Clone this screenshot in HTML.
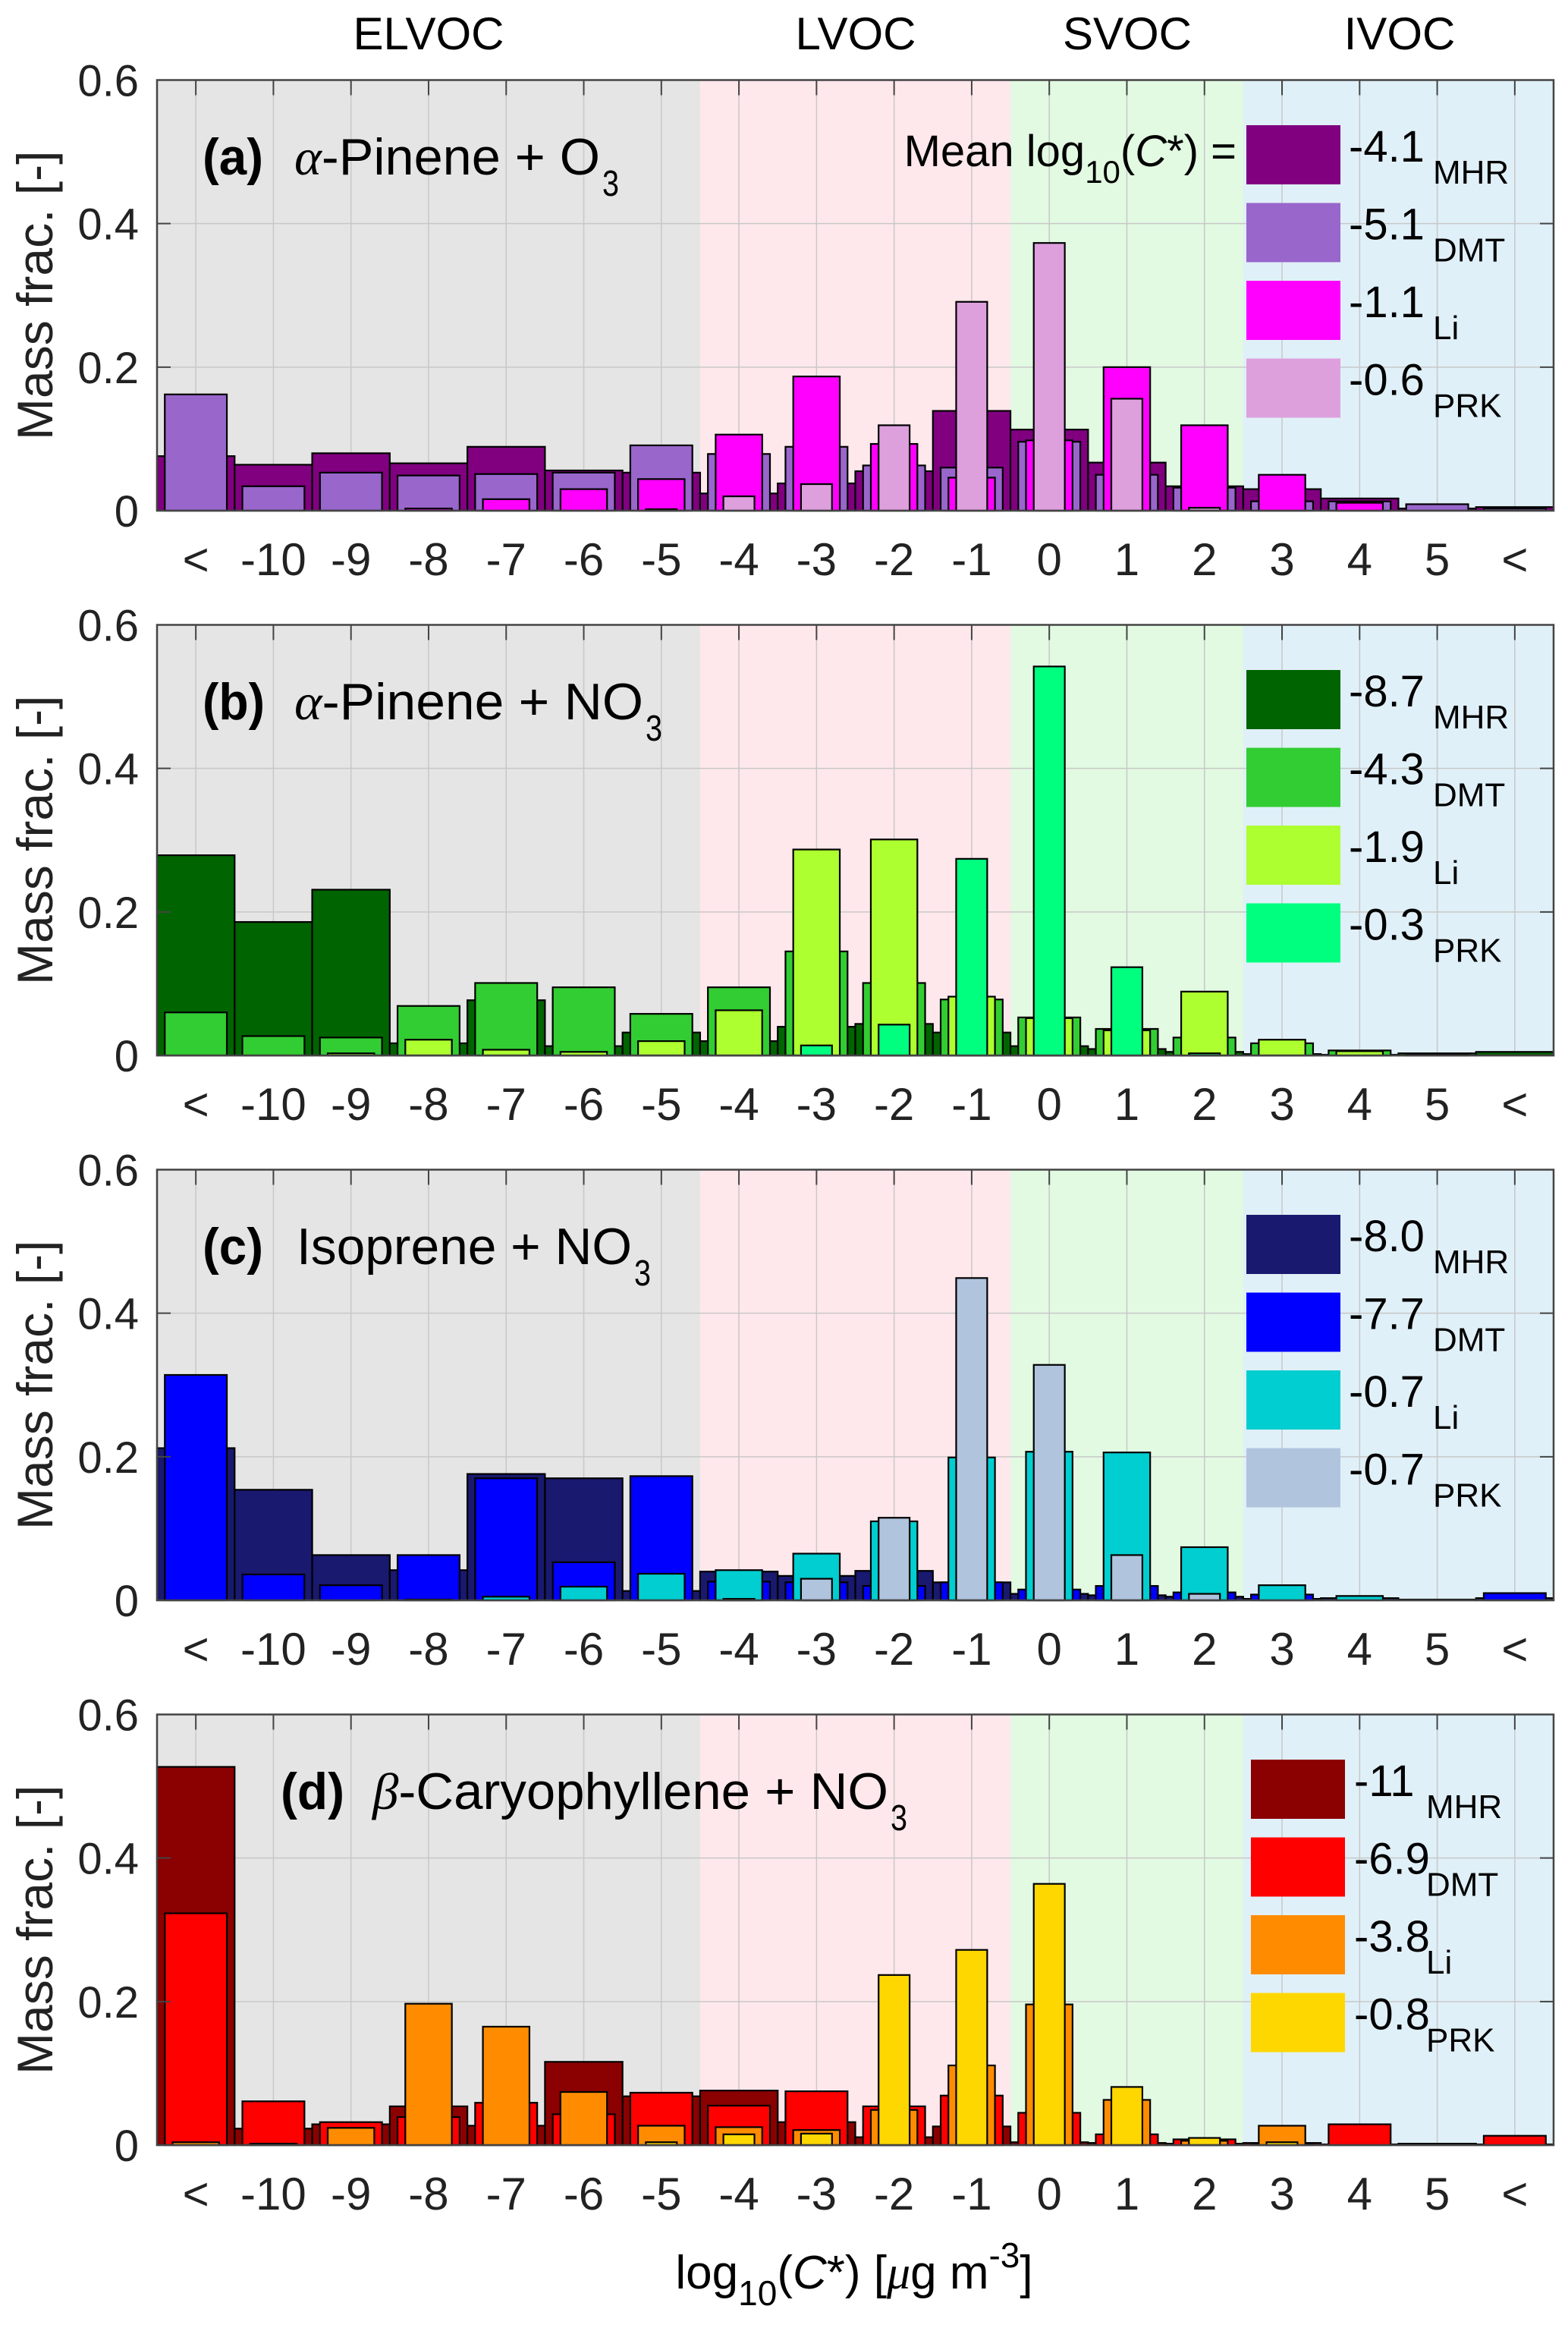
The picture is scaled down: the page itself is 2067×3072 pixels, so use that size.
<!DOCTYPE html>
<html><head><meta charset="utf-8"><style>
html,body{margin:0;padding:0;background:#fff;}
svg{display:block;font-family:"Liberation Sans",Arial,sans-serif;}
</style></head><body>
<svg id="chart" width="2067" height="3072" viewBox="0 0 2067 3072" xmlns="http://www.w3.org/2000/svg">
<g id="bands">
<text x="565" y="65" font-size="60" text-anchor="middle">ELVOC</text>
<text x="1128" y="65" font-size="60" text-anchor="middle">LVOC</text>
<text x="1486" y="65" font-size="60" text-anchor="middle">SVOC</text>
<text x="1845" y="65" font-size="60" text-anchor="middle">IVOC</text>
</g>
<text x="1126" y="3016" font-size="62" text-anchor="middle">log<tspan dy="22" font-size="46">10</tspan><tspan dy="-22">(</tspan><tspan font-style="italic">C</tspan>*) [<tspan font-family="Liberation Serif,serif" font-style="italic">μ</tspan>g m<tspan dy="-28" font-size="46">-3</tspan><tspan dy="28">]</tspan></text>
</svg>
<script>
const categories = ["<","-10","-9","-8","-7","-6","-5","-4","-3","-2","-1","0","1","2","3","4","5","<"];
const yTicks = [0, 0.2, 0.4, 0.6];
const yTickLabels = ["0","0.2","0.4","0.6"];
const seriesNames = ["MHR","DMT","Li","PRK"];

const aMHR = [0.076,0.064,0.080,0.066,0.089,0.056,0.053,0.024,0.038,0.055,0.139,0.113,0.067,0.034,0.030,0.017,0.003,0.005];
const aDMT = [0.162,0.034,0.053,0.049,0.051,0.053,0.091,0.079,0.089,0.063,0.060,0.096,0.050,0.032,0.013,0.013,0.009,0.003];
const aLi  = [0,0,0,0.003,0.016,0.030,0.044,0.106,0.187,0.093,0.046,0.098,0.200,0.119,0.050,0.011,0,0];
const aPRK = [0,0,0,0,0,0,0.002,0.020,0.037,0.119,0.291,0.373,0.156,0.004,0,0,0,0];

const bMHR = [0.279,0.186,0.231,0.017,0.077,0.013,0.032,0.020,0.040,0.044,0.032,0.013,0.009,0.005,0.002,0.001,0.003,0.005];
const bDMT = [0.060,0.027,0.025,0.069,0.101,0.095,0.058,0.095,0.145,0.101,0.078,0.053,0.037,0.025,0.017,0.007,0.002,0];
const bLi  = [0,0,0.003,0.022,0.008,0.005,0.020,0.063,0.287,0.301,0.082,0.052,0.035,0.089,0.022,0.006,0,0];
const bPRK = [0,0,0,0,0,0,0,0,0.014,0.043,0.274,0.542,0.123,0.003,0,0,0,0];

const cMHR = [0.212,0.154,0.063,0.042,0.176,0.170,0.013,0.040,0.034,0.041,0.025,0.009,0.007,0.005,0.002,0.003,0.001,0.003];
const cDMT = [0.314,0.036,0.021,0.063,0.170,0.053,0.173,0.026,0.025,0.020,0.025,0.015,0.020,0.011,0.008,0,0,0.010];
const cLi  = [0,0,0,0.001,0.005,0.019,0.037,0.042,0.065,0.110,0.199,0.207,0.206,0.074,0.021,0.006,0,0];
const cPRK = [0,0,0,0,0,0,0,0.002,0.030,0.115,0.449,0.328,0.063,0.009,0,0,0,0];

const dMHR = [0.527,0.023,0.029,0.054,0.027,0.116,0.068,0.076,0.032,0.011,0.026,0.004,0.003,0.002,0.003,0.001,0.002,0.001];
const dDMT = [0.323,0.061,0.032,0.039,0.059,0.043,0.073,0.055,0.075,0.054,0.069,0.045,0.015,0.008,0.001,0.029,0,0.013];
const dLi  = [0.004,0.002,0.024,0.197,0.165,0.074,0.027,0.025,0.021,0.049,0.111,0.196,0.063,0.006,0.027,0,0,0];
const dPRK = [0,0,0,0,0,0,0.004,0.015,0.016,0.237,0.272,0.364,0.081,0.010,0.004,0,0,0];

const legendA = ["-4.1","-5.1","-1.1","-0.6"];
const legendB = ["-8.7","-4.3","-1.9","-0.3"];
const legendC = ["-8.0","-7.7","-0.7","-0.7"];
const legendD = ["-11","-6.9","-3.8","-0.8"];

const NS = "http://www.w3.org/2000/svg";
const svg = document.getElementById("chart");
const L = 207, R = 2048, catW = (R - L) / categories.length, PH = 567.5, YMAX = 0.6;
const widthFrac = [1, 0.8, 0.6, 0.4];
const panels = [
  {id:"a", top:105.5, data:[aMHR,aDMT,aLi,aPRK], colors:["#800080","#9966CC","#FF00FF","#DDA0DD"], legend:legendA, label:"(a)", lx:267, llen:80, tx:388, tlen:403, pre:"α", name:"-Pinene + O", sub:"3", boxX:1643, numX:1778, subX:1889},
  {id:"b", top:823.5, data:[bMHR,bDMT,bLi,bPRK], colors:["#006400","#32CD32","#ADFF2F","#00FF7F"], legend:legendB, label:"(b)", lx:267, llen:82, tx:388, tlen:460, pre:"α", name:"-Pinene + NO", sub:"3", boxX:1643, numX:1778, subX:1889},
  {id:"c", top:1541.5, data:[cMHR,cDMT,cLi,cPRK], colors:["#191970","#0000FF","#00CED1","#B0C4DE"], legend:legendC, label:"(c)", lx:267, llen:80, tx:391, tlen:442, pre:"", name:"Isoprene + NO", sub:"3", boxX:1643, numX:1778, subX:1889},
  {id:"d", top:2259.5, data:[dMHR,dDMT,dLi,dPRK], colors:["#8B0000","#FF0000","#FF8C00","#FFD700"], legend:legendD, label:"(d)", lx:370, llen:84, tx:491, tlen:680, pre:"β", name:"-Caryophyllene + NO", sub:"3", boxX:1649, numX:1785, subX:1880}
];
function xC(i){ return L + catW * (i + 0.5); }
function mk(tag, attrs, parent){
  const e = document.createElementNS(NS, tag);
  for (const k in attrs) e.setAttribute(k, attrs[k]);
  (parent || svg).appendChild(e);
  return e;
}
panels.forEach(function(p){
  const yS = function(v){ return p.top + PH - v / YMAX * PH; };
  const g = mk("g", {});
  
  
  const bands = [[0,7,"#E5E5E5","elvoc"],[7,11,"#FFE8EC","lvoc"],[11,14,"#E2F9E2","svoc"],[14,18,"#E0F0F8","ivoc"]];
  bands.forEach(function(b){
    const r = mk("rect", {x:L+catW*b[0], y:p.top, width:catW*(b[1]-b[0]), height:PH, fill:b[2]}, g);
    
    
  });
  categories.forEach(function(c, i){
    const gl = mk("line", {x1:xC(i), x2:xC(i), y1:p.top, y2:p.top+PH, stroke:"#c8c8c8", "stroke-width":1.5}, g);
    
    
  });
  yTicks.forEach(function(t){
    if (t > 0 && t < YMAX) {
      const hl = mk("line", {x1:L, x2:R, y1:yS(t), y2:yS(t), stroke:"#c8c8c8", "stroke-width":1.5}, g);
      
      
    }
  });
  p.data.forEach(function(series, s){
    series.forEach(function(v, i){
      if (v <= 0) return;
      const w = catW * widthFrac[s];
      const r = mk("rect", {x:xC(i)-w/2, y:yS(v), width:w, height:yS(0)-yS(v), fill:p.colors[s], stroke:"#000", "stroke-width":2.2}, g);
      
      
    });
  });
  const box = mk("rect", {x:L, y:p.top, width:R-L, height:PH, fill:"none", stroke:"#444", "stroke-width":2.5}, g);
  
  
  categories.forEach(function(c, i){
    const tk = mk("line", {x1:xC(i), x2:xC(i), y1:p.top, y2:p.top+20, stroke:"#444", "stroke-width":2}, g);
    
    
    const tl = mk("text", {x:xC(i), y:p.top+PH+85, "font-size":60, "text-anchor":"middle", fill:"#222"}, g);
    tl.textContent = c;
    
    
  });
  yTicks.forEach(function(t, k){
    const t1 = mk("line", {x1:L, x2:L+18, y1:yS(t), y2:yS(t), stroke:"#444", "stroke-width":2}, g);
    
    
    const t2 = mk("line", {x1:R-18, x2:R, y1:yS(t), y2:yS(t), stroke:"#444", "stroke-width":2}, g);
    
    
    const yl = mk("text", {x:183, y:yS(t)+21, "font-size":58, "text-anchor":"end", fill:"#222"}, g);
    yl.textContent = yTickLabels[k];
    
    
  });
  const ya = mk("text", {transform:"translate(69," + (p.top+PH/2) + ") rotate(-90)", "font-size":66, "text-anchor":"middle", fill:"#222"}, g);
  ya.textContent = "Mass frac. [-]";
  
  
  const by = p.top + 124.5;
  const tl = mk("text", {x:p.lx, y:by, "font-size":68, "font-weight":"bold", textLength:p.llen, lengthAdjust:"spacingAndGlyphs"}, g);
  tl.textContent = p.label;
  
  
  const tt = mk("text", {x:p.tx, y:by, "font-size":68, textLength:p.tlen, lengthAdjust:"spacingAndGlyphs"}, g);
  
  
  if (p.pre) {
    const gr = mk("tspan", {"font-family":"Liberation Serif,serif", "font-style":"italic"}, tt);
    gr.textContent = p.pre;
  }
  const nm = mk("tspan", {}, tt); nm.textContent = p.name;
  const sb = mk("text", {x:p.tx+p.tlen+3, y:by+28, "font-size":48, textLength:22, lengthAdjust:"spacingAndGlyphs"}, g);
  sb.textContent = p.sub;
  
  
  for (let s = 0; s < 4; s++) {
    const yy = p.top + 59.5 + s * 102.5;
    const lb = mk("rect", {x:p.boxX, y:yy, width:124, height:78, fill:p.colors[s]}, g);
    
    
    const lt = mk("text", {x:p.numX, y:yy+48, "font-size":58}, g);
    lt.textContent = p.legend[s];
    
    
    const ls = mk("text", {x:p.subX, y:yy+77, "font-size":44}, g);
    ls.textContent = seriesNames[s];
    
    
  }
  if (p.id === "a") {
    const mt = mk("text", {x:1630, y:p.top+113.5, "font-size":58, "text-anchor":"end"}, g);
    
    
    const m1 = mk("tspan", {}, mt); m1.textContent = "Mean log";
    const m2 = mk("tspan", {dy:22, "font-size":42}, mt); m2.textContent = "10";
    const m3 = mk("tspan", {dy:-22}, mt); m3.textContent = "(";
    const m4 = mk("tspan", {"font-style":"italic"}, mt); m4.textContent = "C";
    const m5 = mk("tspan", {}, mt); m5.textContent = "*) =";
  }
});
</script>
</body></html>
